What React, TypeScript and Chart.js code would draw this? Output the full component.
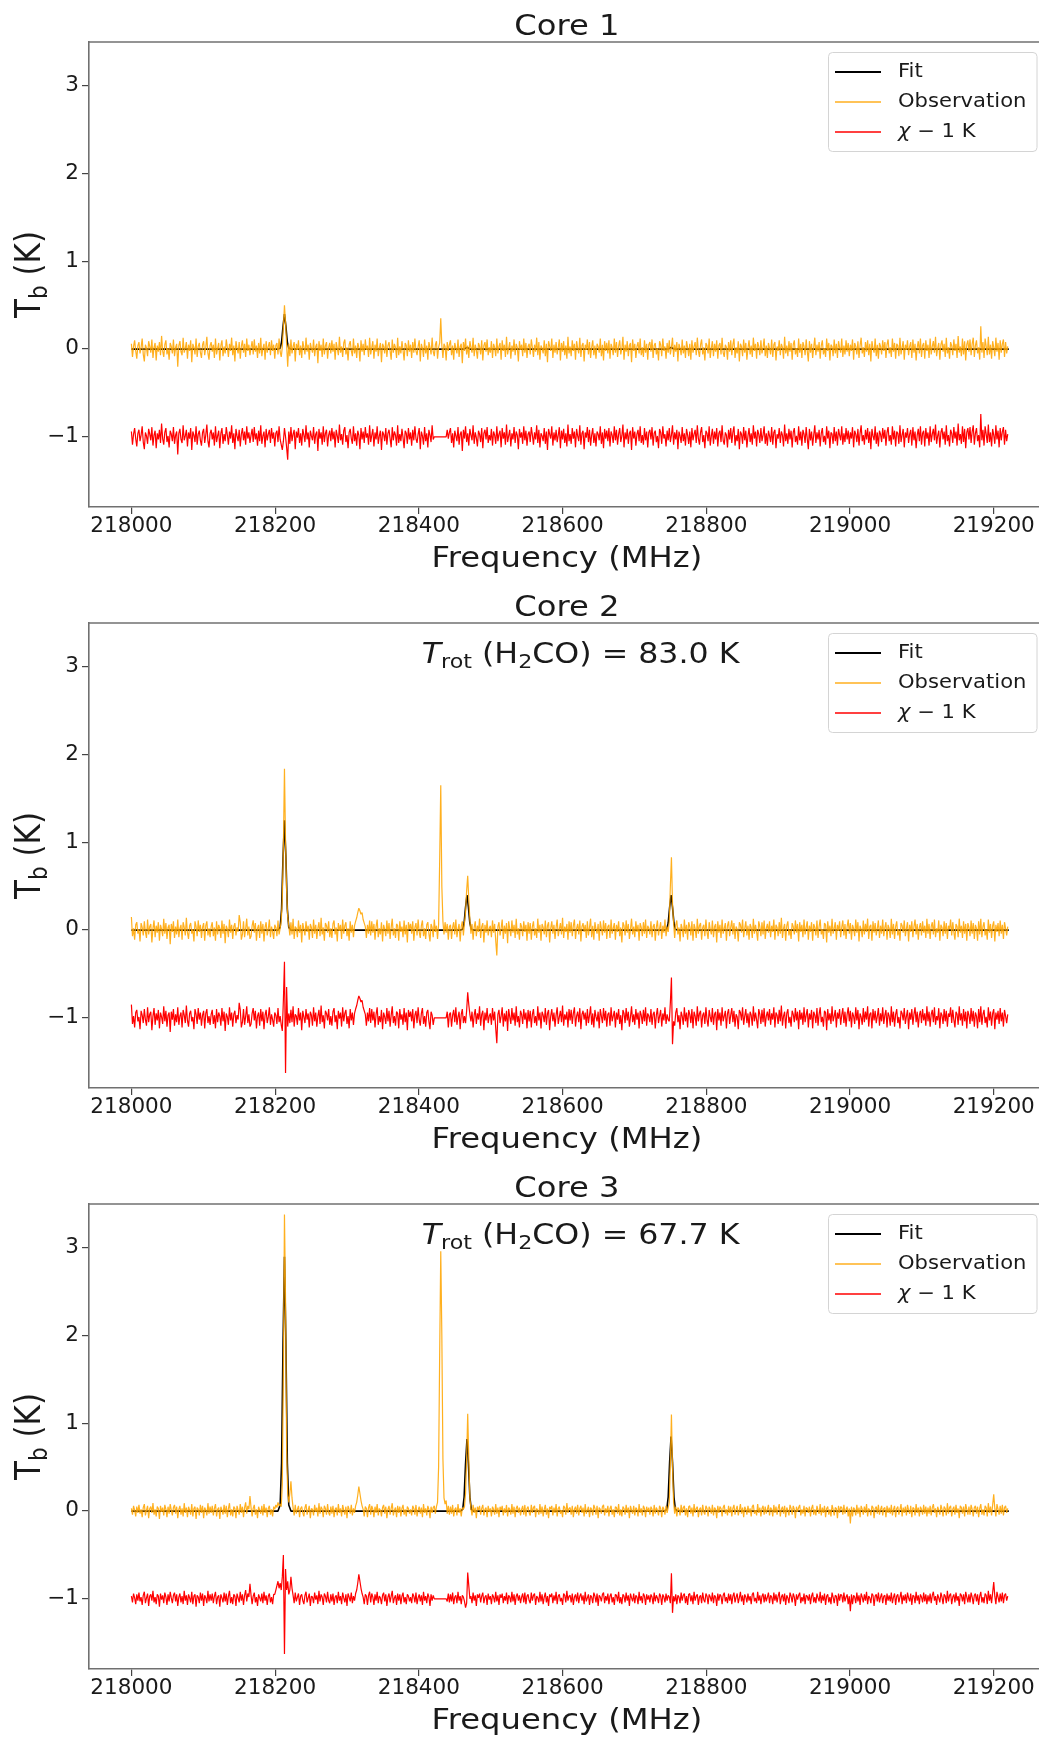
import React, { useEffect, useRef } from 'react';
import { Chart, registerables } from 'chart.js';

Chart.register(...registerables);

// ---- spectral axis (channel grid of the observation) ----
const CH_START = 218000; // MHz
const CH_WIDTH = 1.5; // MHz
const N_CH = 814;
const channelFreq = Array.from({ length: N_CH }, (_, i) => CH_START + CH_WIDTH * i);

// residual is plotted shifted by -1 K ("chi - 1 K")
const CHI_OFFSET = -1;

// ---- axis limits / ticks ----
const X_MIN = 217941;
const X_MAX = 219263;
const X_STEP = 200;
const Y_MIN = -1.8;
const Y_MAX = 3.5;
const Y_STEP = 1;
const TITLE_FREQ = 218606;
const ANNOT_FREQ = 218404;

const titles = ['Core 1', 'Core 2', 'Core 3'];
const trotValues = [null, '83.0', '67.7'];
const legendLabels = ['Fit', 'Observation', 'χ − 1 K'];

// ---- fitted model (frequency in MHz, Tb in K) ----
const fitFreq = [
  218000,
  218201, 218204, 218207, 218209, 218211, 218213, 218215, 218217, 218219, 218222, 218225,
  218455, 218458, 218461, 218463, 218465, 218467, 218469, 218471, 218473, 218476, 218479,
  218739, 218742, 218745, 218747, 218749, 218751, 218753, 218755, 218757, 218760, 218763,
  219221,
];
const core1Fit = [0, 0, 0, .01, .08, .26, .4, .26, .08, .01, 0, 0, 0, 0, 0, 0, .01, .02, .01, 0, 0, 0, 0, 0, 0, 0, 0, .01, .02, .01, 0, 0, 0, 0, 0];
const core2Fit = [0, 0, 0, .03, .24, .83, 1.25, .83, .24, .03, 0, 0, 0, 0, .01, .08, .26, .4, .26, .08, .01, 0, 0, 0, 0, .01, .08, .26, .4, .26, .08, .01, 0, 0, 0];
const core3Fit = [0, 0, 0, .07, .55, 1.91, 2.9, 1.91, .55, .07, 0, 0, 0, 0, .02, .16, .54, .82, .54, .16, .02, 0, 0, 0, 0, .02, .16, .56, .85, .56, .16, .02, 0, 0, 0];

// ---- observed spectra and residuals (K), one value per channel, 37 channels per row ----
const core1Obs = [
  .06,-.09,.03,.1,-.02,-.11,.04,.08,-.05,.02,.12,-.06,-.14,.05,.01,-.08,.09,.03,-.04,.11,-.1,.02,.07,-.13,.04,-.03,.08,-.07,.15,-.02,-.09,.05,.1,-.06,.01,-.12,.07,
  .03,-.05,.11,-.08,.02,.06,-.2,.04,.09,-.03,-.07,.13,-.04,.01,.08,-.11,.05,-.02,.1,-.15,.06,.02,-.06,.12,-.09,.03,.07,-.04,-.1,.05,.09,-.07,.02,.14,-.05,-.12,.04,
  .08,-.03,.05,-.1,.12,-.06,.01,.07,-.13,.04,.1,-.08,.03,-.05,.11,.02,-.09,.06,-.02,.13,-.07,.04,-.14,.09,.01,-.05,.08,-.11,.03,.1,-.04,.06,-.09,.12,-.02,.05,-.07,
  .02,.09,-.06,.11,-.03,.04,-.1,.07,-.05,.13,-.08,.01,.06,-.12,.09,-.04,.03,.08,-.07,.1,-.02,.05,-.11,.04,.07,-.06,.12,-.03,-.09,.02,.25,.5,.3,.05,-.2,.06,-.08,
  .11,-.05,.03,.08,-.14,.06,-.01,.1,-.07,.04,-.1,.09,.02,-.06,.13,-.03,.05,-.12,.07,.01,-.04,.11,-.08,.03,.06,-.16,.09,-.02,.05,-.09,.12,-.06,.04,.08,-.11,.02,.07,
  -.05,.1,-.03,.06,-.12,.08,.01,-.07,.14,-.04,.03,-.09,.07,.11,-.06,.02,-.13,.05,.09,-.02,-.08,.12,-.05,.04,-.1,.07,.02,-.14,.1,-.03,.06,-.07,.11,-.01,.04,-.09,.13,
  -.06,.02,.09,-.11,.05,-.03,.12,-.08,.01,.07,-.15,.06,.03,-.05,.1,-.09,.04,.08,-.02,-.12,.11,-.04,.06,.02,-.1,.13,-.07,.03,-.05,.09,-.01,-.13,.07,.04,-.08,.1,-.03,
  .05,-.1,.08,-.04,.12,-.02,-.07,.03,.1,-.14,.06,.01,-.09,.11,-.05,.04,-.12,.08,.02,-.06,.13,-.03,-.08,.05,.09,-.11,.02,.07,.35,.04,-.1,.06,.03,-.13,.08,-.02,.05,
  .1,-.07,.04,-.12,.07,.01,-.05,.11,-.09,.03,.06,-.16,.08,-.02,.12,-.06,.04,-.1,.09,.02,-.04,.13,-.08,.05,-.01,-.11,.07,.03,-.06,.1,-.13,.04,.08,-.03,.11,-.07,.02,
  -.04,.09,-.1,.06,.02,-.08,.12,-.05,.03,.07,-.12,.1,-.02,.05,-.09,.14,-.06,.01,.08,-.11,.04,-.03,.11,-.07,.06,.02,-.14,.09,-.01,.05,-.08,.12,-.04,.07,-.1,.03,.06,
  -.06,.11,.02,-.09,.05,-.03,.13,-.07,.08,-.12,.04,.01,-.05,.1,-.08,.06,-.15,.09,.03,-.02,.12,-.1,.05,-.04,.08,-.06,.02,.11,-.13,.07,-.03,.09,-.07,.04,-.11,.14,-.05,
  .03,-.08,.1,-.02,.06,-.12,.09,.01,-.05,.13,-.09,.04,.07,-.14,.05,-.01,.11,-.06,.08,-.1,.02,.1,-.07,.04,-.11,.06,.03,-.04,.12,-.08,.05,-.13,.09,-.02,.07,-.05,.1,
  -.11,.06,.02,-.07,.12,-.04,.08,-.09,.03,.1,-.06,.01,.14,-.12,.05,-.03,.09,-.08,.04,.07,-.15,.11,-.02,.06,-.1,.03,.08,-.05,.12,-.07,.02,-.09,.1,-.04,.06,-.12,.05,
  .08,-.03,.11,-.1,.04,.07,-.06,.01,-.13,.09,.05,-.08,.12,-.02,.03,-.11,.07,-.04,.1,-.06,.02,.13,-.09,.05,-.03,.08,-.14,.06,.01,-.07,.11,-.05,.04,-.1,.09,.02,-.08,
  .06,-.12,.1,-.04,.03,.08,-.07,.13,-.02,-.09,.05,.11,-.06,.02,-.13,.07,.04,-.05,.12,-.1,.01,.09,-.08,.06,-.03,.1,-.11,.04,.07,-.06,.13,-.04,-.09,.05,.02,-.12,.08,
  -.03,.1,-.07,.05,.12,-.1,.02,-.05,.09,-.14,.06,.03,-.08,.11,-.04,.07,-.12,.01,.1,-.06,.04,-.09,.13,-.02,.06,-.11,.08,.03,-.07,.1,-.05,.02,.12,-.08,.04,-.1,.07,
  .01,-.06,.11,-.09,.05,.08,-.13,.03,-.02,.1,-.07,.06,.02,-.11,.14,-.05,.04,-.08,.09,-.03,.07,-.12,.05,.1,-.06,.01,-.09,.12,-.04,.06,-.1,.08,.03,-.07,.11,-.02,-.14,
  .09,-.04,.06,-.1,.02,.13,-.07,.05,-.03,.08,-.11,.04,.1,-.06,.01,-.09,.12,-.02,.07,-.13,.05,.03,-.08,.11,-.05,.06,-.1,.09,.02,-.04,.12,-.09,.04,-.06,.1,-.03,.07,
  -.08,.05,-.02,.11,-.12,.07,.03,-.06,.09,-.1,.04,.13,-.05,.02,-.09,.08,-.03,.1,-.07,.06,-.14,.09,.01,-.04,.12,-.08,.05,-.11,.07,.03,-.06,.1,-.02,.08,-.1,.05,.11,
  -.05,.02,-.09,.12,-.03,.07,-.11,.06,.04,-.08,.13,-.06,.02,.09,-.12,.05,-.01,.1,-.07,.03,.08,-.1,.11,-.04,.06,-.13,.02,.09,-.05,.12,-.09,.04,.07,-.11,.1,-.02,.05,
  -.1,.12,-.06,.03,.09,-.04,.14,-.08,.01,.07,-.12,.05,.1,-.03,.06,-.09,.13,-.05,.02,-.11,.08,.04,-.07,.11,-.02,.06,-.1,.15,-.04,.03,-.08,.12,-.06,.09,-.13,.05,.1,
  -.03,.11,-.07,.06,.13,-.09,.04,.1,-.05,.02,-.12,.26,-.04,.08,-.1,.12,.03,-.07,.14,-.06,.05,-.11,.09,.02,-.08,.13,-.03,.07,-.12,.1,-.04,.06,.11,-.09,.08,-.05,.03,
];
const core1Chi = [
  .06,-.09,.03,.1,-.02,-.11,.04,.08,-.05,.02,.12,-.06,-.14,.05,.01,-.08,.09,.03,-.04,.11,-.1,.02,.07,-.13,.04,-.03,.08,-.07,.15,-.02,-.09,.05,.1,-.06,.01,-.12,.07,
  .03,-.05,.11,-.08,.02,.06,-.2,.04,.09,-.03,-.07,.13,-.04,.01,.08,-.11,.05,-.02,.1,-.15,.06,.02,-.06,.12,-.09,.03,.07,-.04,-.1,.05,.09,-.07,.02,.14,-.05,-.12,.04,
  .08,-.03,.05,-.1,.12,-.06,.01,.07,-.13,.04,.1,-.08,.03,-.05,.11,.02,-.09,.06,-.02,.13,-.07,.04,-.14,.09,.01,-.05,.08,-.11,.03,.1,-.04,.06,-.09,.12,-.02,.05,-.07,
  .02,.09,-.06,.11,-.03,.04,-.1,.07,-.05,.13,-.08,.01,.06,-.12,.09,-.04,.03,.08,-.07,.1,-.02,.05,-.11,.04,.07,-.06,.12,-.03,-.09,-.15,-.05,.1,0,-.12,-.26,.06,-.08,
  .11,-.05,.03,.08,-.14,.06,-.01,.1,-.07,.04,-.1,.09,.02,-.06,.13,-.03,.05,-.12,.07,.01,-.04,.11,-.08,.03,.06,-.16,.09,-.02,.05,-.09,.12,-.06,.04,.08,-.11,.02,.07,
  -.05,.1,-.03,.06,-.12,.08,.01,-.07,.14,-.04,.03,-.09,.07,.11,-.06,.02,-.13,.05,.09,-.02,-.08,.12,-.05,.04,-.1,.07,.02,-.14,.1,-.03,.06,-.07,.11,-.01,.04,-.09,.13,
  -.06,.02,.09,-.11,.05,-.03,.12,-.08,.01,.07,-.15,.06,.03,-.05,.1,-.09,.04,.08,-.02,-.12,.11,-.04,.06,.02,-.1,.13,-.07,.03,-.05,.09,-.01,-.13,.07,.04,-.08,.1,-.03,
  .05,-.1,.08,-.04,.12,-.02,-.07,.03,.1,-.14,.06,.01,-.09,.11,-.05,.04,-.12,.08,.02,-.06,.13,-.03,0,0,0,0,0,0,0,0,0,0,0,0,.08,-.02,.05,
  .1,-.07,.04,-.12,.07,.01,-.05,.11,-.09,.03,.06,-.16,.08,-.02,.12,-.06,.04,-.1,.09,.02,-.04,.13,-.08,.05,-.01,-.11,.07,.03,-.06,.1,-.13,.04,.08,-.03,.11,-.07,.02,
  -.04,.09,-.1,.06,.02,-.08,.12,-.05,.03,.07,-.12,.1,-.02,.05,-.09,.14,-.06,.01,.08,-.11,.04,-.03,.11,-.07,.06,.02,-.14,.09,-.01,.05,-.08,.12,-.04,.07,-.1,.03,.06,
  -.06,.11,.02,-.09,.05,-.03,.13,-.07,.08,-.12,.04,.01,-.05,.1,-.08,.06,-.15,.09,.03,-.02,.12,-.1,.05,-.04,.08,-.06,.02,.11,-.13,.07,-.03,.09,-.07,.04,-.11,.14,-.05,
  .03,-.08,.1,-.02,.06,-.12,.09,.01,-.05,.13,-.09,.04,.07,-.14,.05,-.01,.11,-.06,.08,-.1,.02,.1,-.07,.04,-.11,.06,.03,-.04,.12,-.08,.05,-.13,.09,-.02,.07,-.05,.1,
  -.11,.06,.02,-.07,.12,-.04,.08,-.09,.03,.1,-.06,.01,.14,-.12,.05,-.03,.09,-.08,.04,.07,-.15,.11,-.02,.06,-.1,.03,.08,-.05,.12,-.07,.02,-.09,.1,-.04,.06,-.12,.05,
  .08,-.03,.11,-.1,.04,.07,-.06,.01,-.13,.09,.05,-.08,.12,-.02,.03,-.11,.07,-.04,.1,-.06,.02,.13,-.09,.05,-.03,.08,-.14,.06,.01,-.07,.11,-.05,.04,-.1,.09,.02,-.08,
  .06,-.12,.1,-.04,.03,.08,-.07,.13,-.02,-.09,.05,.11,-.06,.02,-.13,.07,.04,-.05,.12,-.1,.01,.09,-.08,.06,-.03,.1,-.11,.04,.07,-.06,.13,-.04,-.09,.05,.02,-.12,.08,
  -.03,.1,-.07,.05,.12,-.1,.02,-.05,.09,-.14,.06,.03,-.08,.11,-.04,.07,-.12,.01,.1,-.06,.04,-.09,.13,-.02,.06,-.11,.08,.03,-.07,.1,-.05,.02,.12,-.08,.04,-.1,.07,
  .01,-.06,.11,-.09,.05,.08,-.13,.03,-.02,.1,-.07,.06,.02,-.11,.14,-.05,.04,-.08,.09,-.03,.07,-.12,.05,.1,-.06,.01,-.09,.12,-.04,.06,-.1,.08,.03,-.07,.11,-.02,-.14,
  .09,-.04,.06,-.1,.02,.13,-.07,.05,-.03,.08,-.11,.04,.1,-.06,.01,-.09,.12,-.02,.07,-.13,.05,.03,-.08,.11,-.05,.06,-.1,.09,.02,-.04,.12,-.09,.04,-.06,.1,-.03,.07,
  -.08,.05,-.02,.11,-.12,.07,.03,-.06,.09,-.1,.04,.13,-.05,.02,-.09,.08,-.03,.1,-.07,.06,-.14,.09,.01,-.04,.12,-.08,.05,-.11,.07,.03,-.06,.1,-.02,.08,-.1,.05,.11,
  -.05,.02,-.09,.12,-.03,.07,-.11,.06,.04,-.08,.13,-.06,.02,.09,-.12,.05,-.01,.1,-.07,.03,.08,-.1,.11,-.04,.06,-.13,.02,.09,-.05,.12,-.09,.04,.07,-.11,.1,-.02,.05,
  -.1,.12,-.06,.03,.09,-.04,.14,-.08,.01,.07,-.12,.05,.1,-.03,.06,-.09,.13,-.05,.02,-.11,.08,.04,-.07,.11,-.02,.06,-.1,.15,-.04,.03,-.08,.12,-.06,.09,-.13,.05,.1,
  -.03,.11,-.07,.06,.13,-.09,.04,.1,-.05,.02,-.12,.26,-.04,.08,-.1,.12,.03,-.07,.14,-.06,.05,-.11,.09,.02,-.08,.13,-.03,.07,-.12,.1,-.04,.06,.11,-.09,.08,-.05,.03,
];

const core2Obs = [
  .15,-.07,.02,-.11,.06,.09,-.04,.01,-.13,.08,.03,-.06,.1,-.02,-.09,.12,-.05,.04,.07,-.14,.02,.11,-.08,.05,-.03,.09,-.12,.06,.01,-.07,.13,-.04,.08,-.1,.03,.06,-.16,
  .07,-.02,.1,-.09,.04,-.05,.12,-.08,.02,.06,-.11,.09,.03,-.06,.14,-.03,-.1,.05,.08,-.04,.01,-.13,.1,.04,-.07,.11,-.02,.06,-.09,.03,.08,-.12,.05,.1,-.06,.02,-.08,
  .04,.09,-.07,.03,-.12,.1,-.05,.06,.02,-.09,.11,-.04,.07,-.15,.05,.01,-.08,.12,-.03,.06,-.1,.04,.08,-.06,.03,-.02,.17,.09,-.11,-.05,.1,-.08,.02,.13,-.06,.04,-.1,
  -.07,.05,.11,-.03,.08,-.12,.02,.06,-.09,.1,-.04,.07,-.13,.03,.09,-.06,.01,.12,-.08,.04,-.02,-.1,.06,.03,-.07,.11,-.05,.02,.1,.35,.95,1.84,1.0,.45,.15,.05,-.06,
  .09,-.05,.13,-.1,.04,.02,-.08,.11,-.03,.06,-.14,.08,.01,-.06,.1,-.02,.05,-.11,.07,.03,-.09,.12,-.04,.06,-.1,.02,.09,-.07,.14,-.05,.03,-.12,.08,.05,-.03,.1,-.08,
  .02,-.09,.07,.11,-.05,.03,-.13,.08,-.01,.06,-.1,.12,-.04,.05,.09,-.07,.02,-.12,.1,-.03,.06,-.08,.05,.1,.14,.2,.25,.22,.18,.2,.12,.08,.04,-.09,.06,-.04,.11,
  -.06,.1,-.03,.07,-.11,.04,.12,-.08,.02,-.05,.09,-.13,.06,.01,-.07,.11,-.04,.08,-.1,.03,.13,-.06,.02,-.09,.07,.05,-.12,.1,-.02,.04,-.08,.11,-.05,.06,-.14,.09,.01,
  .07,-.04,.1,-.12,.03,.08,-.06,.12,-.02,-.09,.05,.11,-.07,.02,-.1,.06,.09,-.04,-.13,.07,.03,-.08,.12,-.02,.05,-.1,.06,.8,1.65,.5,.1,-.05,.09,-.03,.07,-.11,.04,
  .06,-.1,.03,.09,-.05,.12,-.08,.01,.07,-.13,.04,.1,-.06,.08,.2,.45,.62,.35,.12,-.04,.07,-.11,.03,.1,-.07,.05,-.02,.13,-.09,.04,.08,-.14,.06,-.03,.11,-.06,.02,
  .05,-.08,.11,-.03,.07,-.12,-.29,.04,.09,-.06,.02,.12,-.1,.05,-.04,.08,-.15,.1,.01,-.07,.11,-.03,.06,-.09,.13,-.05,.02,-.11,.08,.04,-.07,.1,-.02,.06,-.12,.09,-.04,
  .08,-.11,.04,.1,-.06,.02,-.09,.13,-.03,.06,-.12,.07,.03,-.05,.11,-.08,.05,.09,-.14,.02,.1,-.04,.06,-.1,.03,.12,-.07,.01,.08,-.05,.14,-.09,.04,-.02,.07,-.11,.1,
  -.03,.09,-.07,.05,.12,-.1,.02,.07,-.05,.11,-.13,.04,.08,-.02,.06,-.09,.1,-.06,.03,.13,-.08,.05,-.11,.09,.01,-.04,.07,-.12,.1,.02,-.06,.11,-.03,.08,-.1,.04,.06,
  -.09,.12,-.04,.02,.08,-.11,.06,-.02,.1,-.07,.03,-.14,.09,.05,-.06,.11,-.03,.07,-.1,.01,.13,-.05,.04,-.08,.1,-.02,.06,-.12,.08,.03,-.07,.09,-.04,.12,-.09,.05,.02,
  -.05,.1,-.08,.04,.07,-.12,.03,.11,-.06,.02,.09,-.1,.05,-.03,.12,-.07,.04,-.02,.1,.5,.83,.3,.08,-.09,.06,.11,-.05,.03,-.13,.07,.02,-.08,.12,-.04,.06,-.11,.09,
  .04,-.06,.1,-.12,.07,.02,-.09,.13,-.04,.05,.08,-.11,.03,.06,-.07,.12,-.02,-.1,.09,.01,-.05,.11,-.08,.04,.07,-.14,.1,-.03,.06,-.09,.12,-.04,.02,.08,-.12,.05,.1,
  -.07,.03,.11,-.05,.08,-.1,.04,.01,-.13,.09,.06,-.03,.12,-.08,.02,.1,-.06,.05,-.11,.07,.03,-.09,.13,-.04,.06,-.02,-.12,.1,.04,-.07,.09,-.05,.11,-.1,.02,.07,-.03,
  .1,-.08,.05,-.02,.12,-.11,.06,.03,-.07,.09,-.04,.14,-.09,.02,.07,-.12,.05,.1,-.06,.01,-.1,.08,.04,-.05,.11,-.03,.07,-.13,.09,-.02,.06,-.08,.12,-.05,.03,.1,-.11,
  .05,-.02,.09,-.12,.07,.03,-.06,.11,-.09,.04,.12,-.05,.01,-.1,.08,.06,-.14,.1,-.03,.05,-.07,.13,-.04,.02,.09,-.11,.06,-.01,.1,-.08,.03,.11,-.06,.07,-.1,.04,.12,
  -.04,.08,-.11,.06,.02,-.07,.12,-.03,.09,-.13,.05,.01,-.08,.11,-.05,.07,-.02,.13,-.1,.04,.06,-.12,.1,-.03,.08,-.06,.02,.11,-.09,.05,-.04,.12,-.07,.03,.09,-.11,.06,
  .02,-.09,.13,-.05,.07,-.1,.04,.1,-.06,.01,-.12,.08,.05,-.03,.11,-.07,.02,.09,-.13,.06,-.02,.1,-.08,.04,.12,-.05,.07,-.11,.03,.08,-.06,.1,-.03,.05,-.09,.13,-.04,
  .07,-.1,.04,.09,-.05,.12,-.08,.02,-.03,.11,-.12,.06,.03,-.07,.1,-.04,.08,-.1,.05,.01,.12,-.06,.09,-.02,-.11,.07,.04,-.08,.13,-.03,.05,-.09,.1,-.04,.07,-.12,.08,
  .03,-.07,.11,-.04,.08,-.1,.06,.02,-.12,.1,-.05,.13,-.08,.04,.09,-.06,.01,-.11,.12,-.03,.07,-.09,.05,.1,-.13,.06,-.02,.08,-.07,.11,-.04,.06,-.1,.09,.02,-.06,.04,
];
const core2Chi = [
  .15,-.07,.02,-.11,.06,.09,-.04,.01,-.13,.08,.03,-.06,.1,-.02,-.09,.12,-.05,.04,.07,-.14,.02,.11,-.08,.05,-.03,.09,-.12,.06,.01,-.07,.13,-.04,.08,-.1,.03,.06,-.16,
  .07,-.02,.1,-.09,.04,-.05,.12,-.08,.02,.06,-.11,.09,.03,-.06,.14,-.03,-.1,.05,.08,-.04,.01,-.13,.1,.04,-.07,.11,-.02,.06,-.09,.03,.08,-.12,.05,.1,-.06,.02,-.08,
  .04,.09,-.07,.03,-.12,.1,-.05,.06,.02,-.09,.11,-.04,.07,-.15,.05,.01,-.08,.12,-.03,.06,-.1,.04,.08,-.06,.03,-.02,.17,.09,-.11,-.05,.1,-.08,.02,.13,-.06,.04,-.1,
  -.07,.05,.11,-.03,.08,-.12,.02,.06,-.09,.1,-.04,.07,-.13,.03,.09,-.06,.01,.12,-.08,.04,-.02,-.1,.06,.03,-.07,.11,-.05,.02,-.08,-.15,.2,.64,-.63,.35,-.1,.05,-.06,
  .09,-.05,.13,-.1,.04,.02,-.08,.11,-.03,.06,-.14,.08,.01,-.06,.1,-.02,.05,-.11,.07,.03,-.09,.12,-.04,.06,-.1,.02,.09,-.07,.14,-.05,.03,-.12,.08,.05,-.03,.1,-.08,
  .02,-.09,.07,.11,-.05,.03,-.13,.08,-.01,.06,-.1,.12,-.04,.05,.09,-.07,.02,-.12,.1,-.03,.06,-.08,.05,.1,.14,.2,.25,.22,.18,.2,.12,.08,.04,-.09,.06,-.04,.11,
  -.06,.1,-.03,.07,-.11,.04,.12,-.08,.02,-.05,.09,-.13,.06,.01,-.07,.11,-.04,.08,-.1,.03,.13,-.06,.02,-.09,.07,.05,-.12,.1,-.02,.04,-.08,.11,-.05,.06,-.14,.09,.01,
  .07,-.04,.1,-.12,.03,.08,-.06,.12,-.02,-.09,.05,.11,-.07,.02,-.1,.06,.09,-.04,-.13,.07,.03,-.08,0,0,0,0,0,0,0,0,0,0,0,0,.07,-.11,.04,
  .06,-.1,.03,.09,-.05,.12,-.08,.01,.07,-.13,.04,.1,-.06,.02,-.06,.08,.29,.15,.04,-.04,.07,-.11,.03,.1,-.07,.05,-.02,.13,-.09,.04,.08,-.14,.06,-.03,.11,-.06,.02,
  .05,-.08,.11,-.03,.07,-.12,-.29,.04,.09,-.06,.02,.12,-.1,.05,-.04,.08,-.15,.1,.01,-.07,.11,-.03,.06,-.09,.13,-.05,.02,-.11,.08,.04,-.07,.1,-.02,.06,-.12,.09,-.04,
  .08,-.11,.04,.1,-.06,.02,-.09,.13,-.03,.06,-.12,.07,.03,-.05,.11,-.08,.05,.09,-.14,.02,.1,-.04,.06,-.1,.03,.12,-.07,.01,.08,-.05,.14,-.09,.04,-.02,.07,-.11,.1,
  -.03,.09,-.07,.05,.12,-.1,.02,.07,-.05,.11,-.13,.04,.08,-.02,.06,-.09,.1,-.06,.03,.13,-.08,.05,-.11,.09,.01,-.04,.07,-.12,.1,.02,-.06,.11,-.03,.08,-.1,.04,.06,
  -.09,.12,-.04,.02,.08,-.11,.06,-.02,.1,-.07,.03,-.14,.09,.05,-.06,.11,-.03,.07,-.1,.01,.13,-.05,.04,-.08,.1,-.02,.06,-.12,.08,.03,-.07,.09,-.04,.12,-.09,.05,.02,
  -.05,.1,-.08,.04,.07,-.12,.03,.11,-.06,.02,.09,-.1,.05,-.03,.12,-.07,.04,-.02,-.04,.17,.46,-.3,-.04,-.09,.06,.11,-.05,.03,-.13,.07,.02,-.08,.12,-.04,.06,-.11,.09,
  .04,-.06,.1,-.12,.07,.02,-.09,.13,-.04,.05,.08,-.11,.03,.06,-.07,.12,-.02,-.1,.09,.01,-.05,.11,-.08,.04,.07,-.14,.1,-.03,.06,-.09,.12,-.04,.02,.08,-.12,.05,.1,
  -.07,.03,.11,-.05,.08,-.1,.04,.01,-.13,.09,.06,-.03,.12,-.08,.02,.1,-.06,.05,-.11,.07,.03,-.09,.13,-.04,.06,-.02,-.12,.1,.04,-.07,.09,-.05,.11,-.1,.02,.07,-.03,
  .1,-.08,.05,-.02,.12,-.11,.06,.03,-.07,.09,-.04,.14,-.09,.02,.07,-.12,.05,.1,-.06,.01,-.1,.08,.04,-.05,.11,-.03,.07,-.13,.09,-.02,.06,-.08,.12,-.05,.03,.1,-.11,
  .05,-.02,.09,-.12,.07,.03,-.06,.11,-.09,.04,.12,-.05,.01,-.1,.08,.06,-.14,.1,-.03,.05,-.07,.13,-.04,.02,.09,-.11,.06,-.01,.1,-.08,.03,.11,-.06,.07,-.1,.04,.12,
  -.04,.08,-.11,.06,.02,-.07,.12,-.03,.09,-.13,.05,.01,-.08,.11,-.05,.07,-.02,.13,-.1,.04,.06,-.12,.1,-.03,.08,-.06,.02,.11,-.09,.05,-.04,.12,-.07,.03,.09,-.11,.06,
  .02,-.09,.13,-.05,.07,-.1,.04,.1,-.06,.01,-.12,.08,.05,-.03,.11,-.07,.02,.09,-.13,.06,-.02,.1,-.08,.04,.12,-.05,.07,-.11,.03,.08,-.06,.1,-.03,.05,-.09,.13,-.04,
  .07,-.1,.04,.09,-.05,.12,-.08,.02,-.03,.11,-.12,.06,.03,-.07,.1,-.04,.08,-.1,.05,.01,.12,-.06,.09,-.02,-.11,.07,.04,-.08,.13,-.03,.05,-.09,.1,-.04,.07,-.12,.08,
  .03,-.07,.11,-.04,.08,-.1,.06,.02,-.12,.1,-.05,.13,-.08,.04,.09,-.06,.01,-.11,.12,-.03,.07,-.09,.05,.1,-.13,.06,-.02,.08,-.07,.11,-.04,.06,-.1,.09,.02,-.06,.04,
];

const core3Obs = [
  .03,-.04,.06,.01,-.06,.05,-.02,.07,-.03,.02,-.07,.04,.08,-.05,.01,.06,-.08,.03,.05,-.02,.09,-.04,.02,-.06,.05,.03,-.09,.06,-.01,.04,-.05,.07,.02,-.07,.05,-.03,.08,
  .01,-.05,.04,.07,-.03,.05,-.08,.02,.06,-.04,.03,-.06,.09,-.02,.04,-.07,.05,.01,-.04,.08,-.06,.03,.05,-.09,.04,.02,-.05,.07,-.02,.06,-.08,.04,.01,-.05,.09,-.03,.05,
  -.02,.06,-.05,.03,.08,-.06,.02,.04,-.09,.05,.01,-.04,.07,-.03,.06,-.07,.03,.09,-.05,.02,-.06,.05,.03,-.08,.06,.01,-.04,.08,-.02,.05,-.07,.04,.1,-.03,.06,.02,.17,
  .04,-.06,.03,.07,-.04,.02,-.08,.05,.01,-.03,.06,-.05,.08,-.02,.04,-.07,.03,.06,-.04,.02,-.06,.05,.02,.07,.04,.1,.06,.08,.05,.3,1.6,3.38,2.4,.7,.2,.1,.2,
  .34,.15,.04,-.05,.07,-.03,.02,.06,-.07,.03,.05,-.02,-.06,.04,.08,-.04,.01,.06,-.08,.03,.02,-.05,.07,-.01,.04,-.06,.09,-.03,.05,.02,-.07,.06,.03,-.04,.08,-.02,-.05,
  .05,-.03,.06,-.07,.02,.04,-.05,.08,-.02,.03,-.06,.07,.01,-.04,.05,-.08,.06,.02,-.03,.07,-.05,.03,-.02,.06,.1,.18,.28,.2,.12,.06,.02,-.06,.05,.03,-.07,.04,.08,
  -.04,.06,.02,-.07,.05,-.02,.08,-.05,.03,.01,-.06,.04,.07,-.03,.05,-.08,.02,.06,-.04,.03,.09,-.05,.01,.04,-.07,.06,-.02,.05,-.06,.03,.07,-.04,.02,-.06,.05,.03,-.03,
  .02,-.05,.06,.03,-.04,.07,-.06,.01,.05,-.03,.04,-.07,.08,-.02,.03,-.05,.06,.02,-.08,.05,-.02,.04,.06,-.03,.05,.1,.5,1.8,2.96,2.0,.6,.15,.08,.12,-.03,.06,-.04,
  .05,-.03,.07,-.06,.02,.04,-.05,.08,-.02,.03,-.06,.04,.02,.05,.2,.6,1.11,.6,.15,.03,-.05,.07,-.02,.04,-.08,.05,.01,.06,-.04,.03,.07,-.05,.02,.04,-.07,.06,-.01,
  .03,-.06,.05,.02,-.04,.08,-.03,.04,-.07,.05,.01,.06,-.05,.03,-.02,.07,-.06,.04,.02,-.04,.08,-.03,.05,-.07,.03,.06,-.02,.04,-.05,.02,.06,-.04,.07,-.06,.03,.05,-.02,
  -.05,.07,-.02,.04,.06,-.07,.03,.01,-.04,.08,-.03,.05,-.06,.02,.07,-.04,.03,-.08,.05,.02,.06,-.05,.04,-.02,.08,-.06,.03,.05,-.03,.01,-.07,.06,.04,-.04,.09,-.02,.03,
  .04,-.04,.06,-.07,.02,.05,-.03,.07,-.05,.03,.06,-.02,.04,-.06,.08,-.03,.01,.05,-.07,.04,.02,-.05,.07,.03,-.04,.06,-.08,.04,.02,-.03,.05,.07,-.05,.03,-.02,.06,-.06,
  .03,.06,-.04,.02,-.07,.05,.04,-.03,.08,-.05,.02,-.06,.05,.03,-.04,.07,-.02,.04,-.08,.06,.01,-.03,.06,-.05,.04,.02,-.06,.08,-.02,.03,-.05,.06,.03,-.07,.05,-.01,.04,
  -.04,.05,.02,-.06,.07,-.03,.04,.01,-.05,.06,.03,-.07,.05,.02,-.04,.06,-.02,.04,.1,.55,1.1,.5,.1,-.03,.05,-.06,.04,.02,-.05,.07,-.02,.04,.06,-.05,.03,-.07,.05,
  .06,-.03,.04,-.06,.08,-.02,.03,.05,-.07,.02,.04,-.05,.07,-.01,-.04,.06,.03,-.06,.05,.02,-.03,.07,-.05,.04,.02,-.08,.06,-.02,.05,.03,-.06,.04,.07,-.03,.02,-.05,.06,
  -.02,.05,-.06,.03,.07,-.04,.02,.06,-.05,.01,.08,-.03,.04,-.07,.05,.02,-.04,.06,-.02,.03,-.06,.05,.07,-.03,.01,-.05,.08,-.02,.04,-.06,.03,.06,-.04,.05,-.03,.02,.07,
  -.05,.04,.02,-.06,.07,-.02,.05,-.04,.03,.08,-.06,.02,.05,-.03,.06,-.07,.04,.01,-.05,.07,.03,-.04,.06,.02,-.08,.05,-.01,.04,.07,-.05,.02,-.03,.06,-.06,.04,.03,-.02,
  .05,-.06,.03,.07,-.04,.02,-.05,.06,.01,-.03,.08,-.05,.04,-.02,.06,-.07,.03,.05,-.04,.02,-.06,.07,.02,-.05,.04,.03,-.08,.06,-.02,.05,.04,-.04,.07,-.03,.02,.05,-.06,
  .03,-.14,.05,-.06,.04,.02,-.05,.07,-.03,.04,-.07,.06,.02,-.04,.05,-.02,.08,-.06,.03,.01,-.05,.06,.04,-.08,.03,.05,-.03,.07,-.04,.02,.06,-.05,.03,.04,-.07,.06,-.02,
  .04,-.03,.07,-.05,.02,.06,-.07,.03,.05,-.04,.02,.08,-.06,.04,-.02,.05,-.05,.07,.01,-.03,.06,-.07,.04,.03,-.05,.08,-.02,.04,-.06,.05,.02,-.04,.07,-.03,.05,-.06,.04,
  -.03,.06,-.05,.04,.08,-.02,.03,-.07,.05,.01,-.04,.07,.02,-.06,.05,.03,-.05,.09,-.03,.04,.06,-.06,.02,.05,-.04,.07,-.02,.03,-.08,.06,.04,-.03,.05,-.06,.08,.02,-.04,
  .05,-.04,.07,.02,-.06,.04,.06,-.03,.05,-.07,.03,.08,-.04,.02,-.05,.06,.04,-.06,.09,-.02,.05,-.05,.07,.19,.03,-.06,.08,.02,-.04,.06,-.03,.07,-.05,.04,.06,-.02,.03,
];
const core3Chi = [
  .03,-.04,.06,.01,-.06,.05,-.02,.07,-.03,.02,-.07,.04,.08,-.05,.01,.06,-.08,.03,.05,-.02,.09,-.04,.02,-.06,.05,.03,-.09,.06,-.01,.04,-.05,.07,.02,-.07,.05,-.03,.08,
  .01,-.05,.04,.07,-.03,.05,-.08,.02,.06,-.04,.03,-.06,.09,-.02,.04,-.07,.05,.01,-.04,.08,-.06,.03,.05,-.09,.04,.02,-.05,.07,-.02,.06,-.08,.04,.01,-.05,.09,-.03,.05,
  -.02,.06,-.05,.03,.08,-.06,.02,.04,-.09,.05,.01,-.04,.07,-.03,.06,-.07,.03,.09,-.05,.02,-.06,.05,.03,-.08,.06,.01,-.04,.08,-.02,.05,-.07,.04,.1,-.03,.06,.02,.17,
  .04,-.06,.03,.07,-.04,.02,-.08,.05,.01,-.03,.06,-.05,.08,-.02,.04,-.07,.03,.06,-.04,.02,-.06,.05,.05,.1,.15,.2,.12,.18,.1,.25,.5,-.63,.34,.1,.2,.05,.1,
  .25,.12,.04,-.05,.07,-.03,.02,.06,-.07,.03,.05,-.02,-.06,.04,.08,-.04,.01,.06,-.08,.03,.02,-.05,.07,-.01,.04,-.06,.09,-.03,.05,.02,-.07,.06,.03,-.04,.08,-.02,-.05,
  .05,-.03,.06,-.07,.02,.04,-.05,.08,-.02,.03,-.06,.07,.01,-.04,.05,-.08,.06,.02,-.03,.07,-.05,.03,-.02,.06,.1,.18,.28,.2,.12,.06,.02,-.06,.05,.03,-.07,.04,.08,
  -.04,.06,.02,-.07,.05,-.02,.08,-.05,.03,.01,-.06,.04,.07,-.03,.05,-.08,.02,.06,-.04,.03,.09,-.05,.01,.04,-.07,.06,-.02,.05,-.06,.03,.07,-.04,.02,-.06,.05,.03,-.03,
  .02,-.05,.06,.03,-.04,.07,-.06,.01,.05,-.03,.04,-.07,.08,-.02,.03,-.05,.06,.02,-.08,.05,-.02,.04,0,0,0,0,0,0,0,0,0,0,0,0,-.03,.06,-.04,
  .05,-.03,.07,-.06,.02,.04,-.05,.08,-.02,.03,-.06,.04,.02,-.03,-.1,-.05,.3,.15,0,.03,-.05,.07,-.02,.04,-.08,.05,.01,.06,-.04,.03,.07,-.05,.02,.04,-.07,.06,-.01,
  .03,-.06,.05,.02,-.04,.08,-.03,.04,-.07,.05,.01,.06,-.05,.03,-.02,.07,-.06,.04,.02,-.04,.08,-.03,.05,-.07,.03,.06,-.02,.04,-.05,.02,.06,-.04,.07,-.06,.03,.05,-.02,
  -.05,.07,-.02,.04,.06,-.07,.03,.01,-.04,.08,-.03,.05,-.06,.02,.07,-.04,.03,-.08,.05,.02,.06,-.05,.04,-.02,.08,-.06,.03,.05,-.03,.01,-.07,.06,.04,-.04,.09,-.02,.03,
  .04,-.04,.06,-.07,.02,.05,-.03,.07,-.05,.03,.06,-.02,.04,-.06,.08,-.03,.01,.05,-.07,.04,.02,-.05,.07,.03,-.04,.06,-.08,.04,.02,-.03,.05,.07,-.05,.03,-.02,.06,-.06,
  .03,.06,-.04,.02,-.07,.05,.04,-.03,.08,-.05,.02,-.06,.05,.03,-.04,.07,-.02,.04,-.08,.06,.01,-.03,.06,-.05,.04,.02,-.06,.08,-.02,.03,-.05,.06,.03,-.07,.05,-.01,.04,
  -.04,.05,.02,-.06,.07,-.03,.04,.01,-.05,.06,.03,-.07,.05,.02,-.04,.06,-.02,.04,.02,-.05,.29,-.16,.03,-.03,.05,-.06,.04,.02,-.05,.07,-.02,.04,.06,-.05,.03,-.07,.05,
  .06,-.03,.04,-.06,.08,-.02,.03,.05,-.07,.02,.04,-.05,.07,-.01,-.04,.06,.03,-.06,.05,.02,-.03,.07,-.05,.04,.02,-.08,.06,-.02,.05,.03,-.06,.04,.07,-.03,.02,-.05,.06,
  -.02,.05,-.06,.03,.07,-.04,.02,.06,-.05,.01,.08,-.03,.04,-.07,.05,.02,-.04,.06,-.02,.03,-.06,.05,.07,-.03,.01,-.05,.08,-.02,.04,-.06,.03,.06,-.04,.05,-.03,.02,.07,
  -.05,.04,.02,-.06,.07,-.02,.05,-.04,.03,.08,-.06,.02,.05,-.03,.06,-.07,.04,.01,-.05,.07,.03,-.04,.06,.02,-.08,.05,-.01,.04,.07,-.05,.02,-.03,.06,-.06,.04,.03,-.02,
  .05,-.06,.03,.07,-.04,.02,-.05,.06,.01,-.03,.08,-.05,.04,-.02,.06,-.07,.03,.05,-.04,.02,-.06,.07,.02,-.05,.04,.03,-.08,.06,-.02,.05,.04,-.04,.07,-.03,.02,.05,-.06,
  .03,-.14,.05,-.06,.04,.02,-.05,.07,-.03,.04,-.07,.06,.02,-.04,.05,-.02,.08,-.06,.03,.01,-.05,.06,.04,-.08,.03,.05,-.03,.07,-.04,.02,.06,-.05,.03,.04,-.07,.06,-.02,
  .04,-.03,.07,-.05,.02,.06,-.07,.03,.05,-.04,.02,.08,-.06,.04,-.02,.05,-.05,.07,.01,-.03,.06,-.07,.04,.03,-.05,.08,-.02,.04,-.06,.05,.02,-.04,.07,-.03,.05,-.06,.04,
  -.03,.06,-.05,.04,.08,-.02,.03,-.07,.05,.01,-.04,.07,.02,-.06,.05,.03,-.05,.09,-.03,.04,.06,-.06,.02,.05,-.04,.07,-.02,.03,-.08,.06,.04,-.03,.05,-.06,.08,.02,-.04,
  .05,-.04,.07,.02,-.06,.04,.06,-.03,.05,-.07,.03,.08,-.04,.02,-.05,.06,.04,-.06,.09,-.02,.05,-.05,.07,.19,.03,-.06,.08,.02,-.04,.06,-.03,.07,-.05,.04,.06,-.02,.03,
];

const fits = [core1Fit, core2Fit, core3Fit];
const observations = [core1Obs, core2Obs, core3Obs];
const residuals = [core1Chi, core2Chi, core3Chi];

// ---- styling ----
const W = 1039;
const PANEL_TOPS = [0, 581, 1162];
const PANEL_HEIGHTS = [581, 581, 575];
const PLOT_TOP = 42;
const PLOT_H = 465;
const Y_AXIS_W = 89;
const FONT = '"DejaVu Sans", "Liberation Sans", sans-serif';
const SPINE = '#707070';
const TEXT = '#1a1a1a';
const C_FIT = '#000000';
const C_OBS = 'rgba(255,165,0,0.88)';
const C_CHI = '#ff0000';

function drawRuns(ctx, parts, x, y, sx, align, baseline = 'alphabetic') {
  ctx.save();
  ctx.textBaseline = baseline;
  ctx.textAlign = 'left';
  let total = 0;
  const widths = parts.map((p) => {
    ctx.font = p.font;
    const w = ctx.measureText(p.t).width;
    total += w;
    return w;
  });
  const start = align === 'center' ? -total / 2 : align === 'right' ? -total : 0;
  ctx.translate(x, y);
  ctx.scale(sx, 1);
  let cx = start;
  parts.forEach((p, i) => {
    ctx.font = p.font;
    ctx.fillStyle = p.color || TEXT;
    ctx.fillText(p.t, cx, p.dy || 0);
    cx += widths[i];
  });
  ctx.restore();
  return total * sx;
}

function fmtTick(v) {
  return v < 0 ? '\u2212' + Math.abs(v) : String(v);
}

function makeDecor(idx) {
  return {
    id: 'decor' + idx,
    afterDraw(chart) {
      const { ctx, chartArea: a } = chart;
      const xs = chart.scales.x;
      const ys = chart.scales.y;
      ctx.save();
      // top spine
      ctx.strokeStyle = SPINE;
      ctx.lineWidth = 1.6;
      ctx.beginPath();
      ctx.moveTo(a.left, a.top);
      ctx.lineTo(a.right, a.top);
      ctx.stroke();

      const tickFont = `20.5px ${FONT}`;
      ys.ticks.forEach((t) => {
        drawRuns(ctx, [{ t: fmtTick(t.value), font: tickFont }], a.left - 10, ys.getPixelForValue(t.value), 1.05, 'right', 'middle');
      });
      xs.ticks.forEach((t) => {
        drawRuns(ctx, [{ t: String(t.value), font: tickFont }], xs.getPixelForValue(t.value), a.bottom + 24.5, 1.05, 'center');
      });

      const big = `28.5px ${FONT}`;
      const cxTitle = xs.getPixelForValue(TITLE_FREQ);
      drawRuns(ctx, [{ t: titles[idx], font: big }], cxTitle, a.top - 7, 1.13, 'center');
      drawRuns(ctx, [{ t: 'Frequency (MHz)', font: big }], cxTitle, a.bottom + 60, 1.13, 'center');

      // y label (rotated)
      ctx.save();
      ctx.translate(28.5, (a.top + a.bottom) / 2);
      ctx.rotate(-Math.PI / 2);
      ctx.scale(1, 1.13);
      drawRuns(ctx, [
        { t: 'T', font: `31px ${FONT}` },
        { t: 'b', font: `21.5px ${FONT}`, dy: 6 },
        { t: ' (K)', font: `31px ${FONT}` },
      ], 0, 10.5, 1, 'center');
      ctx.restore();

      // legend
      const lx = a.right - 210.5;
      const ly = a.top + 10.5;
      ctx.save();
      ctx.beginPath();
      ctx.roundRect(lx, ly, 208.5, 99, 4);
      ctx.fillStyle = 'rgba(255,255,255,0.8)';
      ctx.fill();
      ctx.strokeStyle = '#d4d4d4';
      ctx.lineWidth = 1;
      ctx.stroke();
      const lf = `19px ${FONT}`;
      const rows = [
        { c: C_FIT, w: 2.2, parts: [{ t: legendLabels[0], font: lf }] },
        { c: C_OBS, w: 1.3, parts: [{ t: legendLabels[1], font: lf }] },
        { c: C_CHI, w: 1.3, parts: [{ t: 'χ', font: `italic 19px ${FONT}` }, { t: ' \u2212 1 K', font: lf }] },
      ];
      rows.forEach((r, i) => {
        const ry = a.top + 30 + 30 * i;
        ctx.strokeStyle = r.c;
        ctx.lineWidth = r.w;
        ctx.beginPath();
        ctx.moveTo(lx + 6.5, ry);
        ctx.lineTo(lx + 52.5, ry);
        ctx.stroke();
        drawRuns(ctx, r.parts, lx + 69.5, ry, 1.11, 'left', 'middle');
      });
      ctx.restore();

      // annotation
      const tr = trotValues[idx];
      if (tr) {
        drawRuns(ctx, [
          { t: 'T', font: `italic 28.5px ${FONT}` },
          { t: 'rot', font: `20px ${FONT}`, dy: 5 },
          { t: ' (H', font: `28.5px ${FONT}` },
          { t: '2', font: `20px ${FONT}`, dy: 5 },
          { t: 'CO) = ' + tr + ' K', font: `28.5px ${FONT}` },
        ], xs.getPixelForValue(ANNOT_FREQ), a.top + 40, 1.11, 'left');
      }
      ctx.restore();
    },
  };
}

function Panel({ idx }) {
  const ref = useRef(null);
  const h = PANEL_HEIGHTS[idx];
  useEffect(() => {
    const fit = fits[idx];
    const obs = observations[idx];
    const chi = residuals[idx];
    const chart = new Chart(ref.current, {
      type: 'line',
      data: {
        datasets: [
          {
            label: legendLabels[0],
            data: fitFreq.map((f, i) => ({ x: f, y: fit[i] })),
            borderColor: C_FIT,
            borderWidth: 1.6,
            order: 2,
          },
          {
            label: legendLabels[1],
            data: channelFreq.map((f, i) => ({ x: f, y: obs[i] })),
            borderColor: C_OBS,
            borderWidth: 1.2,
            order: 1,
          },
          {
            label: legendLabels[2],
            data: channelFreq.map((f, i) => ({ x: f, y: chi[i] + CHI_OFFSET })),
            borderColor: C_CHI,
            borderWidth: 1.2,
            order: 0,
          },
        ],
      },
      options: {
        animation: false,
        responsive: false,
        devicePixelRatio: 1,
        layout: { padding: { top: PLOT_TOP, left: 0, right: 0, bottom: 0 } },
        elements: {
          point: { radius: 0, hoverRadius: 0 },
          line: { tension: 0, borderJoinStyle: 'bevel', fill: false },
        },
        plugins: { legend: { display: false }, tooltip: { enabled: false }, title: { display: false } },
        events: [],
        scales: {
          x: {
            type: 'linear',
            min: X_MIN,
            max: X_MAX,
            ticks: { stepSize: X_STEP, includeBounds: false, display: false },
            grid: { drawOnChartArea: false, drawTicks: true, tickLength: 7, color: '#444', lineWidth: 1.2 },
            border: { display: true, color: SPINE, width: 1.6 },
            afterFit: (s) => {
              s.height = s.chart.height - PLOT_TOP - PLOT_H;
            },
          },
          y: {
            type: 'linear',
            min: Y_MIN,
            max: Y_MAX,
            ticks: { stepSize: Y_STEP, includeBounds: false, display: false },
            grid: { drawOnChartArea: false, drawTicks: true, tickLength: 7, color: '#444', lineWidth: 1.2 },
            border: { display: true, color: SPINE, width: 1.6 },
            afterFit: (s) => {
              s.width = Y_AXIS_W;
            },
          },
        },
      },
      plugins: [makeDecor(idx)],
    });
    return () => chart.destroy();
  }, [idx]);
  return (
    <canvas
      ref={ref}
      width={W}
      height={h}
      style={{ position: 'absolute', left: 0, top: PANEL_TOPS[idx], width: W, height: h, display: 'block' }}
    />
  );
}

export default function App() {
  return (
    <div style={{ position: 'absolute', left: 0, top: 0, width: W, height: 1737, background: '#ffffff', overflow: 'hidden' }}>
      <Panel idx={0} />
      <Panel idx={1} />
      <Panel idx={2} />
    </div>
  );
}
